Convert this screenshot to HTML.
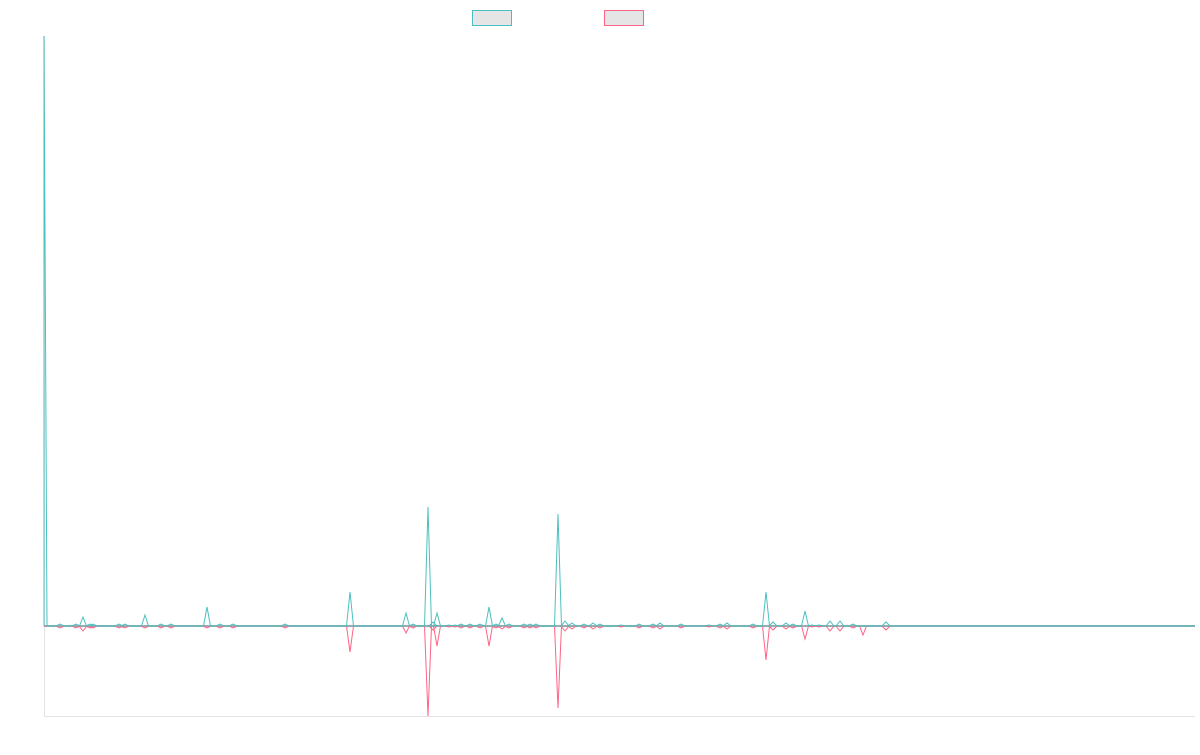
<!DOCTYPE html>
<html><head><meta charset="utf-8"><style>
body{margin:0;background:#fff;width:1200px;height:750px;overflow:hidden;font-family:"Liberation Sans",sans-serif}
</style></head><body>
<svg id="s" width="1200" height="750" xmlns="http://www.w3.org/2000/svg">
<rect x="472.5" y="10.5" width="39" height="15" fill="#e5e5e5" stroke="#4bc0c0" stroke-width="1"/>
<rect x="604.5" y="10.5" width="39" height="15" fill="#e5e5e5" stroke="#ff6384" stroke-width="1"/>
<line x1="44.5" y1="36" x2="44.5" y2="716" stroke="#e3e3e3" stroke-width="1"/>
<line x1="44" y1="716.5" x2="1195" y2="716.5" stroke="#e3e3e3" stroke-width="1"/>
<line x1="44" y1="626" x2="1195" y2="626" stroke="#9aabb2" stroke-width="2"/>
<path id="p" fill="none" stroke="#ff6384" stroke-width="1"/>
<path id="t" fill="none" stroke="#4bc0c0" stroke-width="1"/>
</svg>
<script>
var B=626;
var sp=[[60,2,2],[76,2,2],[83,9,5],[90,2,2],[93,2,2],[119,2,2],[125,2,2],[145,11,2],[161,2,2],[171,2,2],[207,19,2],[220,2,2],[233,2,2],[285,2,2],[350,34,26],[406,13,7],[413,2,2],[428,119,90],[433,4,4],[437,13,20],[449,1,1],[455,1,1],[461,2,2],[470,2,2],[480,2,2],[489,19,20],[496,2,2],[502,8,3],[509,2,2],[524,2,2],[530,2,2],[536,2,2],[558,112,82],[565,5,5],[572,3,3],[584,2,2],[593,3,3],[600,2,2],[621,1,1],[639,2,2],[653,2,2],[660,3,3],[681,2,2],[709,1,1],[720,2,2],[727,3,3],[753,2,2],[766,34,34],[773,4,4],[786,3,3],[793,2,2],[805,15,13],[812,1,1],[819,1,1],[830,5,5],[840,5,5],[853,2,2],[863,0,9],[886,4,4]];
function build(i,sign){
 var d="M44,"+B+" L44,"+(sign<0?36:B)+" L47,"+B;
 sp.forEach(function(s){var v=s[1+i];var w=v>6?3.5:4;d+=" L"+(s[0]-w)+","+B+" L"+s[0]+","+(B+sign*v)+" L"+(s[0]+w)+","+B;});
 d+=" L1195,"+B;return d;}
document.getElementById('t').setAttribute('d',build(0,-1));
document.getElementById('p').setAttribute('d',build(1,1));
</script>
</body></html>
